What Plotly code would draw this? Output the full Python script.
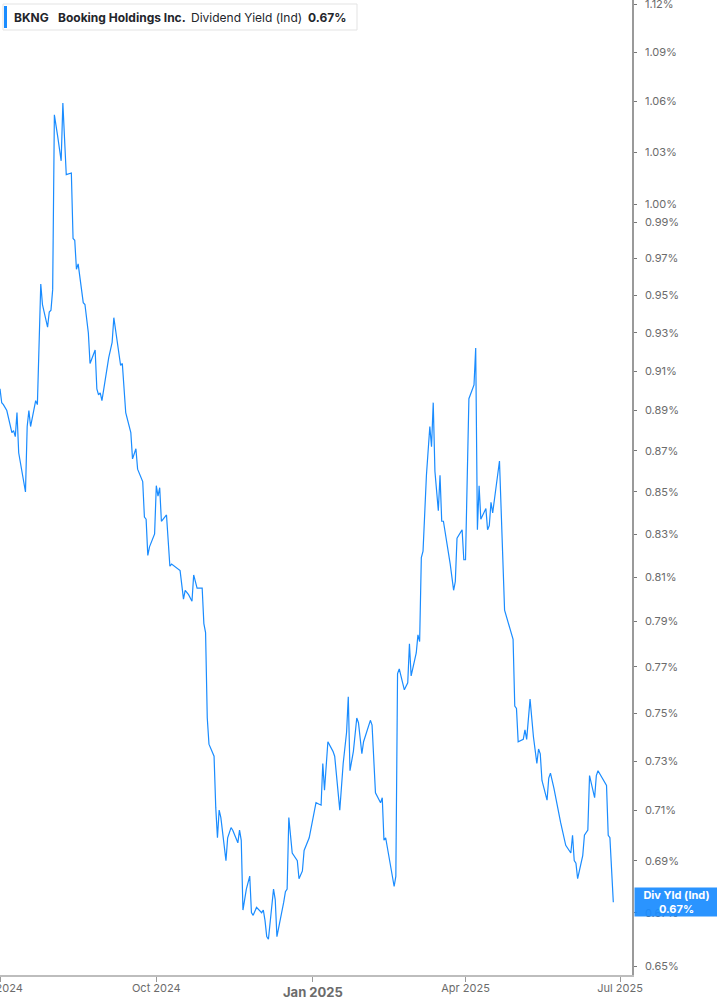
import math
import plotly.graph_objects as go

# ---------------- data ----------------
dates = [
    "2024-07-01", "2024-07-02", "2024-07-03", "2024-07-05", "2024-07-08", "2024-07-09",
    "2024-07-10", "2024-07-11", "2024-07-12", "2024-07-16", "2024-07-17", "2024-07-18",
    "2024-07-19", "2024-07-22", "2024-07-23", "2024-07-25", "2024-07-26", "2024-07-29",
    "2024-07-30", "2024-07-31", "2024-08-01", "2024-08-02", "2024-08-04", "2024-08-06",
    "2024-08-07", "2024-08-08", "2024-08-09", "2024-08-12", "2024-08-13", "2024-08-14",
    "2024-08-15", "2024-08-16", "2024-08-19", "2024-08-20", "2024-08-22", "2024-08-23",
    "2024-08-26", "2024-08-27", "2024-08-28", "2024-08-29", "2024-08-30", "2024-09-03",
    "2024-09-05", "2024-09-06", "2024-09-10", "2024-09-11", "2024-09-13", "2024-09-16",
    "2024-09-17", "2024-09-19", "2024-09-20", "2024-09-23", "2024-09-24", "2024-09-25",
    "2024-09-26", "2024-09-27", "2024-09-30", "2024-10-01", "2024-10-02", "2024-10-03",
    "2024-10-04", "2024-10-07", "2024-10-09", "2024-10-10", "2024-10-13", "2024-10-15",
    "2024-10-17", "2024-10-18", "2024-10-20", "2024-10-22", "2024-10-23", "2024-10-25",
    "2024-10-28", "2024-10-29", "2024-10-30", "2024-10-31", "2024-11-01", "2024-11-04",
    "2024-11-05", "2024-11-06", "2024-11-07", "2024-11-08", "2024-11-11", "2024-11-12",
    "2024-11-14", "2024-11-15", "2024-11-18", "2024-11-19", "2024-11-20", "2024-11-21",
    "2024-11-23", "2024-11-25", "2024-11-26", "2024-11-27", "2024-11-29", "2024-12-02",
    "2024-12-03", "2024-12-04", "2024-12-05", "2024-12-06", "2024-12-09", "2024-12-10",
    "2024-12-11", "2024-12-13", "2024-12-15", "2024-12-16", "2024-12-17", "2024-12-18",
    "2024-12-20", "2024-12-23", "2024-12-24", "2024-12-26", "2024-12-27", "2024-12-30",
    "2025-01-03", "2025-01-06", "2025-01-07", "2025-01-08", "2025-01-10", "2025-01-13",
    "2025-01-14", "2025-01-17", "2025-01-19", "2025-01-21", "2025-01-22", "2025-01-23",
    "2025-01-25", "2025-01-27", "2025-01-28", "2025-01-30", "2025-01-31", "2025-02-04",
    "2025-02-05", "2025-02-07", "2025-02-10", "2025-02-11", "2025-02-12", "2025-02-13",
    "2025-02-18", "2025-02-19", "2025-02-20", "2025-02-21", "2025-02-24", "2025-02-26",
    "2025-02-27", "2025-02-28", "2025-03-03", "2025-03-04", "2025-03-05", "2025-03-06",
    "2025-03-07", "2025-03-09", "2025-03-11", "2025-03-12", "2025-03-13", "2025-03-14",
    "2025-03-16", "2025-03-17", "2025-03-18", "2025-03-19", "2025-03-23", "2025-03-25",
    "2025-03-26", "2025-03-27", "2025-03-30", "2025-03-31", "2025-04-01", "2025-04-03",
    "2025-04-06", "2025-04-07", "2025-04-08", "2025-04-09", "2025-04-10", "2025-04-13",
    "2025-04-14", "2025-04-15", "2025-04-16", "2025-04-17", "2025-04-21", "2025-04-24",
    "2025-04-29", "2025-04-30", "2025-05-01", "2025-05-02", "2025-05-05", "2025-05-06",
    "2025-05-07", "2025-05-09", "2025-05-11", "2025-05-13", "2025-05-14", "2025-05-15",
    "2025-05-16", "2025-05-19", "2025-05-20", "2025-05-21", "2025-05-23", "2025-05-27",
    "2025-05-30", "2025-06-02", "2025-06-03", "2025-06-04", "2025-06-05", "2025-06-06",
    "2025-06-09", "2025-06-10", "2025-06-12", "2025-06-13", "2025-06-16", "2025-06-17",
    "2025-06-18", "2025-06-23", "2025-06-24", "2025-06-25", "2025-06-27",
]

div_yield = [
    0.901, 0.894, 0.893, 0.890, 0.879, 0.880,
    0.877, 0.889, 0.869, 0.850, 0.882, 0.890,
    0.882, 0.895, 0.893, 0.956, 0.945, 0.933,
    0.941, 0.942, 0.953, 1.052, 1.039, 1.025,
    1.059, 1.033, 1.017, 1.018, 0.981, 0.980,
    0.964, 0.967, 0.946, 0.945, 0.930, 0.914,
    0.921, 0.901, 0.898, 0.899, 0.895, 0.917,
    0.925, 0.938, 0.913, 0.914, 0.889, 0.879,
    0.866, 0.871, 0.861, 0.855, 0.838, 0.837,
    0.820, 0.824, 0.830, 0.853, 0.848, 0.852,
    0.836, 0.839, 0.815, 0.816, 0.814, 0.813,
    0.800, 0.804, 0.802, 0.799, 0.811, 0.805,
    0.805, 0.789, 0.785, 0.748, 0.737, 0.732,
    0.711, 0.699, 0.710, 0.707, 0.690, 0.699,
    0.703, 0.702, 0.697, 0.702, 0.698, 0.671,
    0.679, 0.684, 0.670, 0.669, 0.672, 0.670,
    0.671, 0.667, 0.661, 0.660, 0.679, 0.675,
    0.661, 0.667, 0.674, 0.678, 0.679, 0.707,
    0.693, 0.690, 0.683, 0.686, 0.694, 0.699,
    0.713, 0.712, 0.729, 0.718, 0.738, 0.734,
    0.732, 0.710, 0.729, 0.742, 0.757, 0.726,
    0.734, 0.748, 0.746, 0.733, 0.738, 0.747,
    0.745, 0.717, 0.713, 0.715, 0.698, 0.699,
    0.680, 0.684, 0.767, 0.769, 0.760, 0.763,
    0.780, 0.766, 0.776, 0.784, 0.781, 0.819,
    0.822, 0.858, 0.882, 0.872, 0.894, 0.860,
    0.841, 0.858, 0.836, 0.836, 0.816, 0.804,
    0.808, 0.828, 0.832, 0.818, 0.818, 0.896,
    0.903, 0.922, 0.832, 0.853, 0.837, 0.842,
    0.832, 0.834, 0.845, 0.840, 0.865, 0.795,
    0.782, 0.753, 0.752, 0.738, 0.739, 0.743,
    0.739, 0.756, 0.740, 0.729, 0.735, 0.733,
    0.722, 0.714, 0.723, 0.725, 0.719, 0.705,
    0.696, 0.693, 0.700, 0.690, 0.689, 0.683,
    0.692, 0.700, 0.702, 0.724, 0.715, 0.724,
    0.726, 0.720, 0.700, 0.699, 0.674,
]

y_ticks = [0.65, 0.67, 0.69, 0.71, 0.73, 0.75, 0.77, 0.79, 0.81, 0.83, 0.85, 0.87,
           0.89, 0.91, 0.93, 0.95, 0.97, 0.99, 1.00, 1.03, 1.06, 1.09, 1.12]
y_tick_labels = [f"{v:.2f}%" for v in y_ticks]

x_ticks = ["2024-07-01", "2024-10-01", "2025-01-01", "2025-04-01", "2025-07-01"]
x_tick_labels = ["Jul 2024", "Oct 2024", "", "Apr 2025", "Jul 2025"]
year_tick = "2025-01-01"
year_label = "Jan 2025"

ticker = "BKNG"
company = "Booking Holdings Inc."
metric = "Dividend Yield (Ind)"
last_label = "0.67%"
tag_title = "Div Yld (Ind)"

# ---------------- figure ----------------
W, H = 717, 1005
ML, MR, MT, MB = 0, 85, 0, 30
PW, PH = W - ML - MR, H - MT - MB
BLUE = "#1a8cff"
FONT = "Inter, Roboto, 'Noto Sans', sans-serif"

fig = go.Figure()
fig.add_trace(go.Scatter(
    x=dates, y=div_yield, mode="lines",
    line=dict(color=BLUE, width=1.2),
    hoverinfo="skip", showlegend=False,
))

fig.update_layout(
    width=W, height=H,
    margin=dict(l=ML, r=MR, t=MT, b=MB, pad=0, autoexpand=False),
    paper_bgcolor="white", plot_bgcolor="white",
    font=dict(family=FONT, size=11, color="#6b6b6b"),
    showlegend=False,
)

fig.update_xaxes(
    type="date", automargin=False,
    range=["2024-07-01", "2025-07-08"],
    tickmode="array", tickvals=x_ticks, ticktext=x_tick_labels,
    ticks="outside", ticklen=5, tickwidth=1, tickcolor="#9a9a9a",
    showline=True, linecolor="#bdbdbd", linewidth=2,
    showgrid=False, zeroline=False,
    tickfont=dict(family=FONT, size=11, color="#6b6b6b"),
    ticklabelstandoff=-3,
    ticklabeloverflow="allow",
)

fig.update_yaxes(
    type="log", side="right", automargin=False,
    range=[math.log10(0.6468), math.log10(1.1226)],
    tickmode="array", tickvals=y_ticks, ticktext=y_tick_labels,
    ticks="outside", ticklen=3, tickwidth=1, tickcolor="#777777",
    showline=True, linecolor="#9a9a9a", linewidth=1.5,
    showgrid=False, zeroline=False,
    tickfont=dict(family=FONT, size=11, color="#6b6b6b"),
    ticklabelstandoff=6,
    ticklabeloverflow="allow",
)

def px_x(px):
    return (px - ML) / PW

def px_y(py):
    return 1 - (py - MT) / PH

# Year-boundary tick label, bold and a bit larger
fig.add_annotation(
    xref="x", yref="paper", x=year_tick, y=px_y(992),
    xanchor="center", yanchor="middle", showarrow=False,
    text=f"<b>{year_label}</b>", font=dict(family=FONT, size=13, color="#6b6b6b"),
)

# Header box
fig.add_shape(type="rect", xref="paper", yref="paper",
              x0=px_x(3), x1=px_x(357), y0=px_y(30), y1=px_y(4),
              line=dict(color="#e3e3e3", width=1), fillcolor="white", layer="above")
fig.add_shape(type="rect", xref="paper", yref="paper",
              x0=px_x(4), x1=px_x(7), y0=px_y(28), y1=px_y(6),
              line=dict(width=0), fillcolor=BLUE, layer="above")

header_parts = [
    (ticker, 12, "bold"),
    (company, 56, "bold"),
    (metric, 189, "normal"),
    (last_label, 306, "bold"),
]
for txt, px, weight in header_parts:
    label = f"<b>{txt}</b>" if weight == "bold" else txt
    fig.add_annotation(
        xref="paper", yref="paper", x=px_x(px), y=px_y(17),
        xanchor="left", yanchor="middle", showarrow=False,
        text=label, font=dict(family=FONT, size=12, color="#23252b"),
    )

# Last value tag
fig.add_annotation(
    xref="paper", yref="y", x=1, xshift=2,
    y=math.log10(div_yield[-1]), xanchor="left", yanchor="middle",
    showarrow=False, align="center",
    text=f"<b>{tag_title}</b><br><b>{last_label}</b>",
    font=dict(family=FONT, size=11, color="white"),
    bgcolor="rgba(26,140,255,0.93)", borderpad=2, width=79, height=24,
)

fig.write_html(
    "out.html",
    config={"displayModeBar": False},
    post_script="document.body.style.margin='0';document.body.style.overflow='hidden';",
)
